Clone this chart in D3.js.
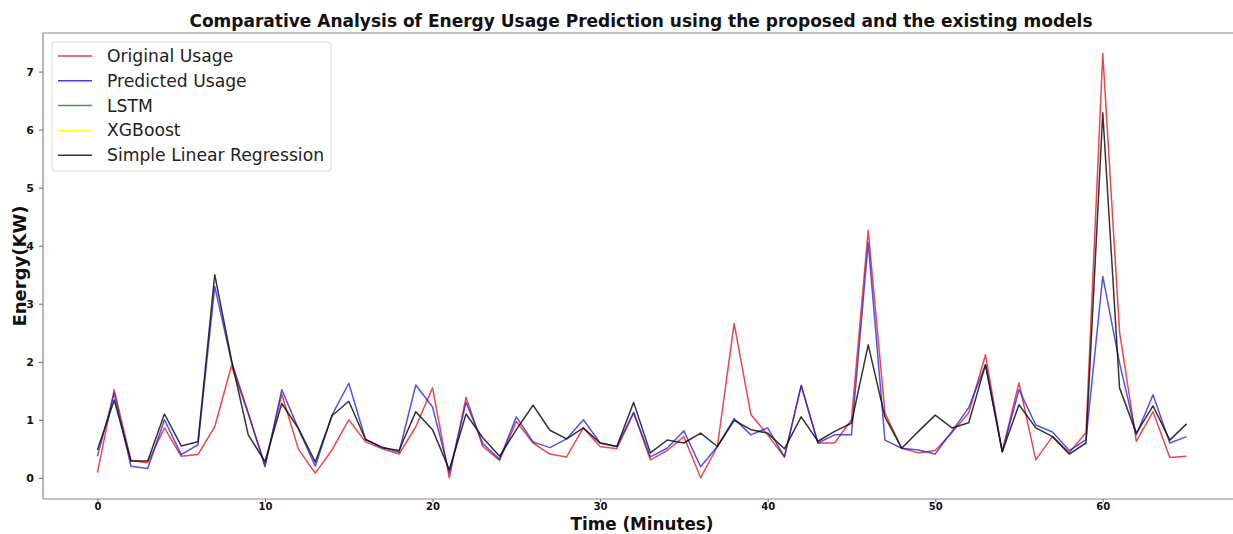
<!DOCTYPE html>
<html>
<head>
<meta charset="utf-8">
<script src="https://cdn.jsdelivr.net/npm/d3@7"></script>
<style>
  html, body { margin: 0; padding: 0; background: #fff; }
  svg { display: block; }
  text { font-family: "DejaVu Sans", sans-serif; }
</style>
</head>
<body>
<svg id="chart" width="1233" height="534"></svg>
<script>
// ---- data ----
const titleText = "Comparative Analysis of Energy Usage Prediction using the proposed and the existing models";
const xLabel = "Time (Minutes)";
const yLabel = "Energy(KW)";
const seriesNames = ["Original Usage", "Predicted Usage", "LSTM", "XGBoost", "Simple Linear Regression"];
const xTicks = [0, 10, 20, 30, 40, 50, 60];
const yTicks = [0, 1, 2, 3, 4, 5, 6, 7];
const minutes = d3.range(66);

const originalUsage = [
  0.09, 1.52, 0.30, 0.26, 0.86, 0.37, 0.40, 0.88, 1.93, 1.10,
  0.22, 1.44, 0.49, 0.08, 0.48, 1.00, 0.62, 0.50, 0.41, 0.88,
  1.55, 0.00, 1.39, 0.54, 0.30, 0.97, 0.60, 0.41, 0.36, 0.86,
  0.54, 0.50, 1.12, 0.31, 0.47, 0.71, 0.00, 0.54, 2.66, 1.09,
  0.74, 0.36, 1.59, 0.60, 0.60, 1.00, 4.26, 1.12, 0.51, 0.43,
  0.47, 0.78, 1.12, 2.12, 0.45, 1.64, 0.31, 0.71, 0.43, 0.78,
  7.31, 2.52, 0.63, 1.14, 0.35, 0.37
];
const predictedUsage = [
  0.37, 1.46, 0.20, 0.16, 1.00, 0.40, 0.57, 3.30, 2.00, 1.12,
  0.19, 1.52, 0.84, 0.20, 1.08, 1.63, 0.66, 0.53, 0.44, 1.60,
  1.22, 0.08, 1.30, 0.59, 0.32, 1.05, 0.62, 0.52, 0.67, 1.00,
  0.60, 0.54, 1.13, 0.36, 0.51, 0.81, 0.19, 0.54, 1.02, 0.74,
  0.86, 0.36, 1.59, 0.60, 0.74, 0.74, 4.05, 0.65, 0.51, 0.48,
  0.41, 0.80, 1.21, 1.95, 0.45, 1.52, 0.91, 0.79, 0.47, 0.66,
  3.47, 1.98, 0.74, 1.43, 0.60, 0.71
];
const linearRegression = [
  0.48, 1.34, 0.29, 0.29, 1.10, 0.55, 0.62, 3.50, 2.03, 0.74,
  0.28, 1.28, 0.85, 0.27, 1.07, 1.32, 0.66, 0.52, 0.47, 1.14,
  0.83, 0.14, 1.10, 0.69, 0.37, 0.83, 1.25, 0.82, 0.67, 0.86,
  0.60, 0.54, 1.30, 0.43, 0.65, 0.60, 0.77, 0.54, 0.99, 0.83,
  0.77, 0.50, 1.05, 0.63, 0.80, 0.94, 2.29, 1.05, 0.51, 0.80,
  1.08, 0.86, 0.95, 1.95, 0.45, 1.26, 0.86, 0.71, 0.41, 0.60,
  6.29, 1.55, 0.77, 1.24, 0.65, 0.93
];
const seriesColors = ["#e8191c", "#1a1ae6", "#228b22", "#ffff33", "#111111"];

// ---- layout ----
const svg = d3.select("#chart");
const W = 1233, H = 534;
const mLeft = 43, mRight = 1241, mTop = 33, mBottom = 499;

const x = d3.scaleLinear().domain([-3.25, 68.25]).range([mLeft, mRight]);
const y = d3.scaleLinear().domain([-0.365, 7.665]).range([mBottom, mTop]);

svg.append("defs").append("clipPath").attr("id", "clip")
  .append("rect").attr("x", mLeft).attr("y", mTop).attr("width", mRight - mLeft).attr("height", mBottom - mTop);

// title
svg.append("text")
  .attr("x", 641).attr("y", 27)
  .attr("text-anchor", "middle")
  .attr("font-weight", "bold")
  .attr("font-size", 17)
  .attr("fill", "#111")
  .text(titleText);

// axes
const xAxis = d3.axisBottom(x).tickValues(xTicks).tickSize(3).tickPadding(1);
const yAxis = d3.axisLeft(y).tickValues(yTicks).tickSize(4).tickPadding(5);

const gx = svg.append("g").attr("transform", `translate(0,${mBottom})`).call(xAxis);
const gy = svg.append("g").attr("transform", `translate(${mLeft},0)`).call(yAxis);
[gx, gy].forEach(g => {
  g.select(".domain").remove();
  g.selectAll(".tick line").attr("stroke", "#666");
  g.selectAll(".tick text").attr("font-size", 11).attr("font-weight", "bold")
    .attr("fill", "#111").attr("font-family", "DejaVu Sans, sans-serif");
});
gx.selectAll(".tick text").attr("font-size", 10);

// spines
svg.append("line").attr("x1", mLeft).attr("x2", W).attr("y1", mTop).attr("y2", mTop).attr("stroke", "#888").attr("stroke-width", 1.2);
svg.append("line").attr("x1", mLeft).attr("x2", W).attr("y1", mBottom).attr("y2", mBottom).attr("stroke", "#888").attr("stroke-width", 1.2);
svg.append("line").attr("x1", mLeft).attr("x2", mLeft).attr("y1", mTop).attr("y2", mBottom).attr("stroke", "#888").attr("stroke-width", 1.2);

// axis labels
svg.append("text")
  .attr("x", 642).attr("y", 529.5)
  .attr("text-anchor", "middle")
  .attr("font-weight", "bold").attr("font-size", 16.8).attr("fill", "#111")
  .text(xLabel);
svg.append("text")
  .attr("transform", `translate(26,${(mTop + mBottom) / 2}) rotate(-90)`)
  .attr("text-anchor", "middle")
  .attr("font-weight", "bold").attr("font-size", 18).attr("fill", "#111")
  .text(yLabel);

// lines
const line = d3.line().x((d, i) => x(minutes[i])).y(d => y(d));
const plot = svg.append("g").attr("clip-path", "url(#clip)");
const drawn = [
  { data: originalUsage, color: seriesColors[0], op: 0.8 },
  { data: predictedUsage, color: seriesColors[1], op: 0.75 },
  { data: linearRegression, color: seriesColors[4], op: 0.85 }
];
drawn.forEach(s => {
  plot.append("path").datum(s.data)
    .attr("d", line)
    .attr("fill", "none")
    .attr("stroke", s.color)
    .attr("stroke-opacity", s.op)
    .attr("stroke-width", 1.5)
    .attr("stroke-linejoin", "round");
});

// legend
const lg = svg.append("g");
lg.append("rect")
  .attr("x", 52).attr("y", 42).attr("width", 279).attr("height", 129)
  .attr("rx", 3).attr("fill", "#fff").attr("fill-opacity", 0.85)
  .attr("stroke", "#ddd");
seriesNames.forEach((name, i) => {
  const yy = 56 + i * 24.8;
  lg.append("line").attr("x1", 58).attr("x2", 92).attr("y1", yy).attr("y2", yy)
    .attr("stroke", seriesColors[i]).attr("stroke-width", 1.5).attr("stroke-opacity", i === 3 ? 1 : 0.85);
  lg.append("text").attr("x", 107).attr("y", yy + 6)
    .attr("font-size", 17.2).attr("fill", "#222").text(name);
});
</script>
</body>
</html>
